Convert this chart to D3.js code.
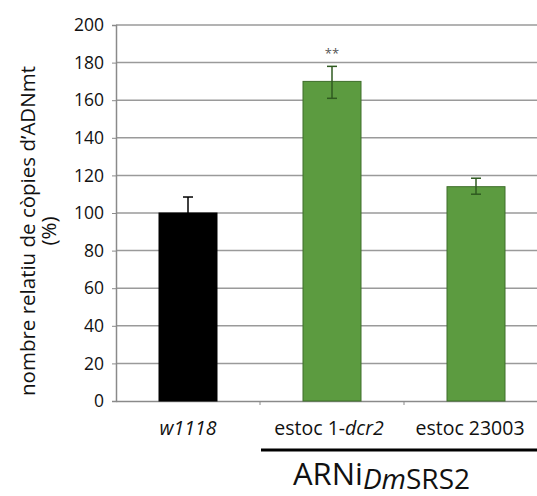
<!DOCTYPE html>
<html><head><meta charset="utf-8">
<script src="https://cdn.jsdelivr.net/npm/d3@7"></script>
<style>body{margin:0;background:#fff}svg{display:block}</style>
</head><body>
<script>
const categories = ["w1118", "estoc 1-dcr2", "estoc 23003"];
const values = [100, 170, 114];
const errLow = [100, 161, 110];
const errHigh = [108.5, 178, 118.5];
const barColors = ["#000000", "#5c9b40", "#5c9b40"];
const yTicks = [0, 20, 40, 60, 80, 100, 120, 140, 160, 180, 200];

const W = 537, H = 496;
const m = {left: 116, top: 25, right: -11, bottom: 95};
const svg = d3.select("body").append("svg").attr("width", W).attr("height", H);
const font = "'Open Sans', sans-serif";

const x = d3.scaleBand().domain(categories).range([m.left, W - m.right]).paddingInner(0).paddingOuter(0);
const y = d3.scaleLinear().domain([0, 200]).range([H - m.bottom, m.top]);

// gridlines
svg.append("g").selectAll("line").data(yTicks.filter(d => d > 0)).join("line")
  .attr("x1", m.left).attr("x2", W - m.right)
  .attr("y1", d => y(d)).attr("y2", d => y(d))
  .attr("stroke", "#9a9a9a").attr("stroke-width", 1.5);

// y axis
const ya = svg.append("g").attr("transform", `translate(${m.left},0)`)
  .call(d3.axisLeft(y).tickValues(yTicks).tickSize(4).tickPadding(8));
ya.select(".domain").attr("stroke", "#8a8a8a").attr("stroke-width", 1.5);
ya.selectAll(".tick line").attr("stroke", "#8a8a8a");
ya.selectAll("text").attr("font-family", font).attr("font-size", 17.5).attr("fill", "#111");

// x axis
const xa = svg.append("g").attr("transform", `translate(0,${y(0)})`)
  .call(d3.axisBottom(x).tickSize(0).tickFormat(""));
xa.select(".domain").attr("stroke", "#8a8a8a").attr("stroke-width", 1.5);
// category boundary ticks
svg.append("g").selectAll("line").data(categories.slice(1)).join("line")
  .attr("x1", d => x(d)).attr("x2", d => x(d))
  .attr("y1", y(0)).attr("y2", y(0) + 4)
  .attr("stroke", "#8a8a8a").attr("stroke-width", 1);

// bars
const bw = 58;
svg.append("g").selectAll("rect").data(categories).join("rect")
  .attr("x", d => x(d) + x.bandwidth() / 2 - bw / 2)
  .attr("width", bw)
  .attr("y", (d, i) => y(values[i]))
  .attr("height", (d, i) => y(0) - y(values[i]))
  .attr("fill", (d, i) => barColors[i])
  .attr("stroke", (d, i) => i === 0 ? "#000" : "#3f6e2b")
  .attr("stroke-width", 1);

// error bars
const eb = svg.append("g");
categories.forEach((c, i) => {
  const cx = x(c) + x.bandwidth() / 2;
  const col = i === 0 ? "#000" : "#2f5a20";
  eb.append("line").attr("x1", cx).attr("x2", cx).attr("y1", y(errHigh[i])).attr("y2", y(errLow[i]))
    .attr("stroke", col).attr("stroke-width", 1.5);
  eb.append("line").attr("x1", cx - 5).attr("x2", cx + 5).attr("y1", y(errHigh[i])).attr("y2", y(errHigh[i]))
    .attr("stroke", col).attr("stroke-width", 1.5);
  if (errLow[i] < values[i])
    eb.append("line").attr("x1", cx - 5).attr("x2", cx + 5).attr("y1", y(errLow[i])).attr("y2", y(errLow[i]))
      .attr("stroke", col).attr("stroke-width", 1.5);
});

// significance
svg.append("text").attr("x", x(categories[1]) + x.bandwidth() / 2).attr("y", 58)
  .attr("text-anchor", "middle").attr("font-family", font).attr("font-size", 13)
  .attr("fill", "#555").text("**");

// x labels
const lblY = 435;
const l0 = svg.append("text").attr("x", x(categories[0]) + x.bandwidth() / 2).attr("y", lblY)
  .attr("text-anchor", "middle").attr("font-family", font).attr("font-size", 19.5).attr("fill", "#111");
l0.append("tspan").attr("font-style", "italic").text("w1118");
const l1 = svg.append("text").attr("x", x(categories[1]) + x.bandwidth() / 2 - 3).attr("y", lblY)
  .attr("text-anchor", "middle").attr("font-family", font).attr("font-size", 19.5).attr("fill", "#111");
l1.append("tspan").text("estoc 1-");
l1.append("tspan").attr("font-style", "italic").text("dcr2");
svg.append("text").attr("x", 470).attr("y", lblY)
  .attr("text-anchor", "middle").attr("font-family", font).attr("font-size", 19.5).attr("fill", "#111")
  .text(categories[2]);

// group line and label
svg.append("line").attr("x1", 261).attr("x2", W).attr("y1", 450).attr("y2", 450)
  .attr("stroke", "#000").attr("stroke-width", 3);
const g = svg.append("text").attr("x", 293).attr("y", 485)
  .attr("font-family", font).attr("font-size", 31).attr("fill", "#111");
g.append("tspan").text("ARNi");
g.append("tspan").attr("font-style", "italic").attr("font-size", 28).attr("dy", 4).text("Dm");
g.append("tspan").attr("font-size", 28).text("SRS2");

// y title
const t = svg.append("text").attr("transform", `translate(35,231) rotate(-90)`)
  .attr("text-anchor", "middle").attr("font-family", font).attr("font-size", 20.5).attr("fill", "#111");
t.append("tspan").attr("x", 0).attr("dy", 0).text("nombre relatiu de còpies d’ADNmt");
t.append("tspan").attr("x", 0).attr("dy", 21).text("(%)");
</script>
</body></html>
